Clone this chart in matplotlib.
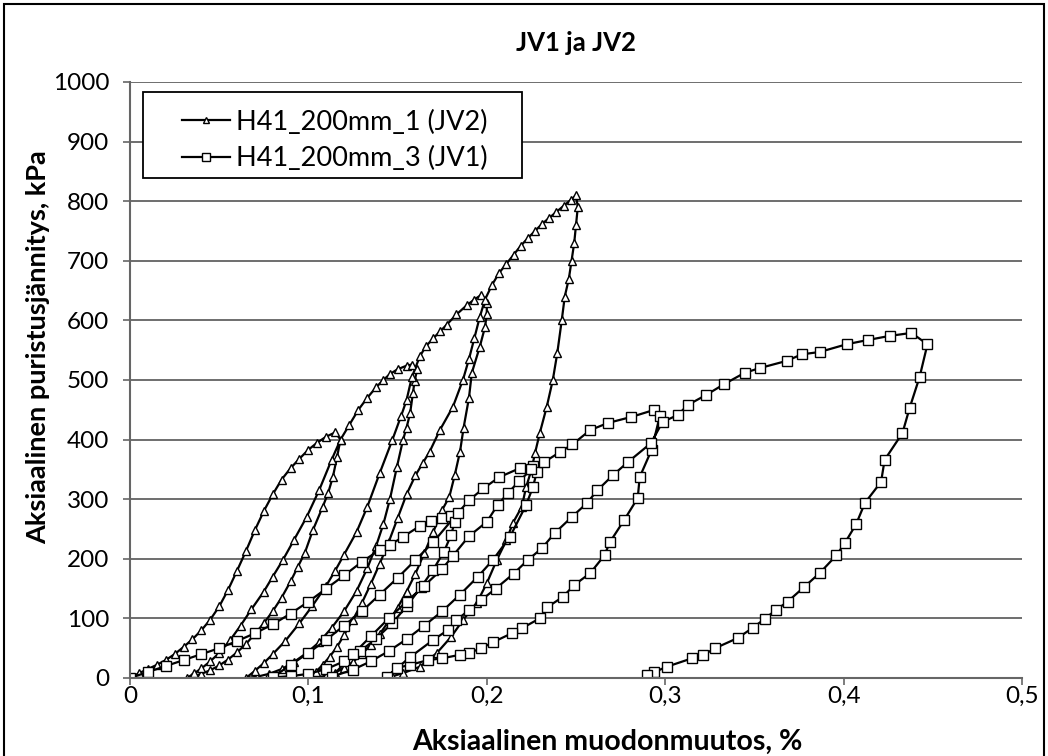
import matplotlib
matplotlib.use("Agg")
import matplotlib.pyplot as plt
from matplotlib.patches import Rectangle

plt.rcParams['font.family'] = ['Lato', 'DejaVu Sans']

title = "JV1 ja JV2"
xlabel = "Aksiaalinen muodonmuutos, %"
ylabel = "Aksiaalinen puristusjännitys, kPa"
label_jv2 = "H41_200mm_1 (JV2)"
label_jv1 = "H41_200mm_3 (JV1)"
xticks = [0, 0.1, 0.2, 0.3, 0.4, 0.5]
xticklabels = ["0", "0,1", "0,2", "0,3", "0,4", "0,5"]
yticks = [0, 100, 200, 300, 400, 500, 600, 700, 800, 900, 1000]

# JV2 (triangles): loading/unloading cycles
x_jv2 = [0, 0.005, 0.01, 0.015, 0.02, 0.025, 0.03, 0.035, 0.04, 0.045, 0.05, 0.055, 0.06, 0.065,
         0.07, 0.075, 0.08, 0.085, 0.09, 0.095, 0.1, 0.105, 0.11, 0.115,
         0.118, 0.116, 0.1137, 0.111, 0.108, 0.1025, 0.098, 0.094, 0.09, 0.085, 0.08, 0.075, 0.07,
         0.065, 0.06, 0.055, 0.05, 0.045, 0.04, 0.035, 0.032,
         0.036, 0.04, 0.045, 0.05, 0.056, 0.062, 0.068, 0.075, 0.08, 0.0857, 0.092, 0.099, 0.106,
         0.113, 0.118, 0.123, 0.128, 0.133, 0.138, 0.142, 0.1457, 0.15, 0.155, 0.158,
         0.161, 0.1595, 0.1586, 0.157, 0.155, 0.153, 0.1496, 0.1457, 0.142, 0.138, 0.133, 0.127,
         0.12, 0.113, 0.106, 0.099, 0.092, 0.085, 0.078, 0.071, 0.065,
         0.07, 0.075, 0.08, 0.087, 0.095, 0.102, 0.11, 0.115, 0.12, 0.127, 0.133, 0.14, 0.147,
         0.152, 0.155, 0.158, 0.1625, 0.166, 0.17, 0.174, 0.1776, 0.183, 0.189, 0.193, 0.197,
         0.2, 0.2, 0.199, 0.196, 0.1916, 0.19, 0.187, 0.185, 0.182, 0.179, 0.175, 0.17, 0.165,
         0.16, 0.155, 0.15, 0.145, 0.14, 0.135, 0.13, 0.125, 0.12, 0.115, 0.11, 0.105, 0.1,
         0.104, 0.108, 0.112, 0.116, 0.12, 0.125, 0.13, 0.135, 0.14, 0.145, 0.15, 0.155, 0.16,
         0.164, 0.168, 0.1737, 0.181, 0.1866, 0.19, 0.193, 0.196, 0.199, 0.203, 0.207, 0.211,
         0.215, 0.219, 0.223, 0.227, 0.231, 0.235, 0.239, 0.243, 0.247, 0.25,
         0.251, 0.25, 0.249, 0.2475, 0.246, 0.2437, 0.242, 0.2395, 0.237, 0.2336, 0.2297, 0.227,
         0.225, 0.222, 0.2196, 0.2146, 0.211, 0.2056, 0.2, 0.1944, 0.1866, 0.18, 0.172, 0.1625,
         0.153, 0.147]
y_jv2 = [0, 8, 15, 22, 30, 40, 52, 65, 80, 98, 120, 148, 180, 213,
         248, 280, 308, 333, 352, 368, 383, 395, 405, 412,
         400, 370, 337, 310, 287, 248, 210, 186, 162, 135, 112, 92, 74,
         57, 43, 31, 21, 13, 7, 2, 0,
         8, 16, 28, 42, 63, 88, 115, 145, 170, 198, 232, 270, 315,
         366, 400, 425, 450, 470, 488, 500, 510, 518, 524, 526,
         518, 498, 478, 444, 420, 399, 354, 300, 258, 222, 184, 146,
         112, 84, 60, 42, 27, 15, 7, 2, 0,
         12, 25, 40, 62, 92, 120, 155, 180, 207, 245, 287, 344, 399,
         440, 466, 505, 540, 557, 570, 582, 593, 610, 626, 635, 643,
         630, 610, 589, 555, 512, 470, 420, 380, 340, 304, 282, 245, 210,
         175, 145, 118, 95, 74, 56, 40, 27, 17, 9, 4, 1, 0,
         10, 22, 36, 52, 72, 98, 126, 158, 192, 228, 268, 308, 340,
         360, 380, 416, 455, 500, 535, 570, 605, 635, 660, 680, 695,
         710, 725, 738, 750, 762, 772, 782, 792, 802, 810,
         790, 760, 730, 700, 670, 640, 600, 545, 500, 455, 411, 377,
         349, 320, 287, 260, 231, 198, 159, 126, 97, 69, 42, 19,
         8, 3]

# JV1 (squares): loading/unloading cycles
x_jv1 = [0, 0.01, 0.02, 0.03, 0.04, 0.05, 0.06, 0.07, 0.08, 0.09, 0.1, 0.11, 0.12, 0.13,
         0.14, 0.1457, 0.153, 0.1625, 0.169, 0.175, 0.18,
         0.182, 0.18, 0.176, 0.17, 0.163, 0.155, 0.147, 0.138, 0.129, 0.12, 0.11, 0.1, 0.09, 0.08,
         0.09, 0.1, 0.11, 0.12, 0.13, 0.14, 0.15, 0.16, 0.17, 0.1838, 0.19, 0.198, 0.207,
         0.2185, 0.226,
         0.228, 0.2258, 0.222, 0.213, 0.2034, 0.195, 0.185, 0.175, 0.165, 0.155, 0.145, 0.135,
         0.125, 0.113,
         0.125, 0.135, 0.145, 0.155, 0.165, 0.175, 0.181, 0.19, 0.2, 0.206, 0.2118, 0.218, 0.225,
         0.232, 0.241, 0.248, 0.258, 0.268, 0.281, 0.294,
         0.297, 0.2924, 0.2857, 0.2846, 0.277, 0.269, 0.266, 0.258, 0.249, 0.2426, 0.234, 0.2297,
         0.22, 0.214, 0.2034, 0.197, 0.19, 0.185, 0.175, 0.167, 0.157, 0.1496, 0.144,
         0.157, 0.17, 0.178, 0.183, 0.19, 0.197, 0.205, 0.215, 0.223, 0.231, 0.238, 0.2476,
         0.256, 0.262, 0.2706, 0.279, 0.292, 0.2986, 0.307, 0.3126, 0.323, 0.333, 0.3445, 0.353,
         0.368, 0.3765, 0.3866, 0.4017, 0.4134, 0.4258, 0.438,
         0.447, 0.4426, 0.437, 0.433, 0.423, 0.421, 0.412, 0.407, 0.4006, 0.396, 0.3866, 0.378,
         0.3686, 0.362, 0.3557, 0.349, 0.3406, 0.328, 0.321, 0.315, 0.301, 0.294, 0.2896]
y_jv1 = [0, 10, 20, 30, 40, 50, 62, 75, 90, 108, 128, 150, 172, 195,
         215, 223, 237, 255, 263, 268, 272,
         262, 240, 212, 182, 152, 120, 92, 66, 45, 28, 15, 7, 3, 1,
         22, 42, 64, 88, 112, 140, 168, 198, 228, 277, 298, 318, 337,
         352, 356,
         345, 320, 290, 237, 198, 170, 140, 112, 88, 65, 45, 28,
         14, 2,
         40, 70, 100, 128, 155, 183, 205, 238, 262, 290, 310, 330, 350,
         362, 379, 392, 416, 428, 438, 450,
         440, 383, 337, 302, 265, 228, 206, 176, 156, 136, 119, 100,
         84, 75, 60, 50, 42, 39, 33, 30, 22, 17, 2,
         35, 64, 80, 97, 114, 131, 150, 175, 198, 218, 243, 270,
         293, 315, 340, 362, 394, 430, 441, 458, 475, 493, 512, 520,
         532, 543, 547, 560, 567, 574, 579,
         560, 505, 453, 411, 366, 329, 294, 258, 226, 206, 176, 153,
         128, 114, 99, 84, 67, 50, 38, 33, 19, 10, 5]

W, H = 1048, 756
fig = plt.figure(figsize=(W / 100, H / 100), dpi=100)
fig.patches.append(Rectangle((4 / W, -2 / H), 1040 / W, 754 / H, transform=fig.transFigure,
                             fill=False, edgecolor='black', linewidth=1.5))
ax = fig.add_axes([130 / W, 1 - 678 / H, (1022 - 130) / W, (678 - 82) / H])

ax.plot(x_jv2, y_jv2, color='black', linewidth=1.6, marker='^', markersize=6,
        markerfacecolor='white', markeredgecolor='black', markeredgewidth=1.0, label=label_jv2)
ax.plot(x_jv1, y_jv1, color='black', linewidth=1.6, marker='s', markersize=7,
        markerfacecolor='white', markeredgecolor='black', markeredgewidth=1.0, label=label_jv1)

ax.set_xlim(0, 0.5)
ax.set_ylim(0, 1000)
ax.set_xticks(xticks)
ax.set_xticklabels(xticklabels)
ax.set_yticks(yticks)
ax.yaxis.grid(True, color='#555555', linewidth=1.2)
ax.set_axisbelow(True)
for s in ['top', 'right']:
    ax.spines[s].set_visible(False)
for s in ['left', 'bottom']:
    ax.spines[s].set_color('#666666')
    ax.spines[s].set_linewidth(1.5)
ax.tick_params(axis='both', labelsize=17.5, length=5, width=1.2, color='#666666')
ax.tick_params(axis='x', pad=1)
ax.tick_params(axis='y', pad=10)
ax.set_title(title, fontsize=18.5, fontweight='bold', pad=22)
ax.set_xlabel(xlabel, fontsize=20.5, fontweight='bold')
ax.xaxis.set_label_coords(0.535, -0.085)
ax.set_ylabel(ylabel, fontsize=19.5, fontweight='bold')
ax.yaxis.set_label_coords(-0.09, 0.555)

# legend: box drawn at fixed place, entries without own frame
ax.add_patch(Rectangle((13 / 892, 1 - (178 - 82) / 596), (522 - 143) / 892,
                       (178 - 92) / 596, transform=ax.transAxes, fill=True, facecolor='white',
                       edgecolor='black', linewidth=1.3, zorder=4))
leg = ax.legend(loc='upper left', bbox_to_anchor=(30 / 892, 1 - 6 / 596), fontsize=19.5,
                frameon=False, handlelength=1.8, borderpad=0.3, labelspacing=0.42,
                handletextpad=0.2, markerscale=0.75)
leg.set_zorder(5)

fig.savefig("out.png", dpi=100)
